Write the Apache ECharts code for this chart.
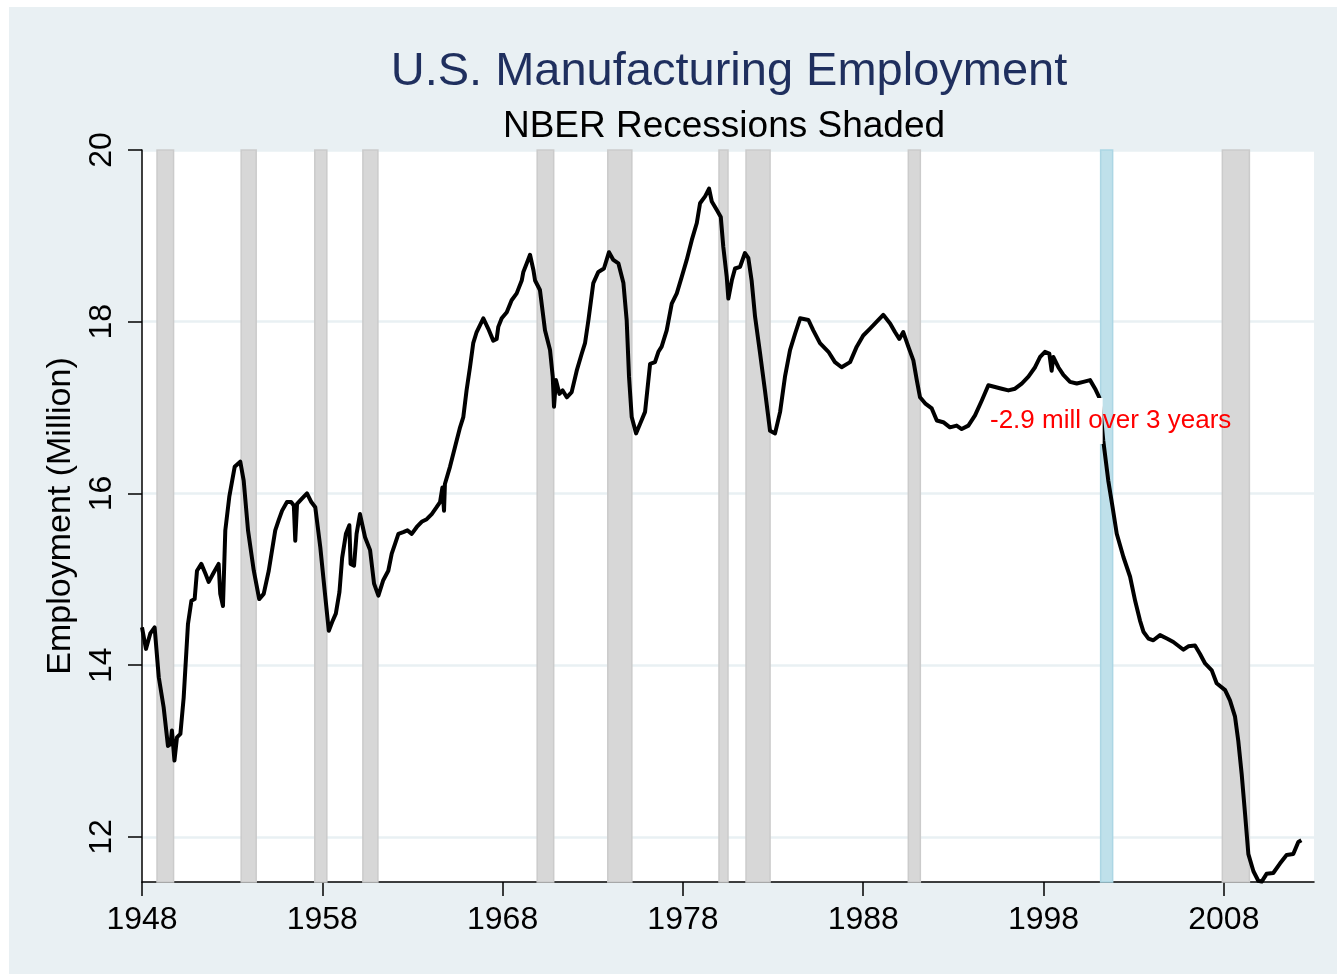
<!DOCTYPE html>
<html>
<head>
<meta charset="utf-8">
<title>U.S. Manufacturing Employment</title>
<script src="https://cdn.jsdelivr.net/npm/echarts@6/dist/echarts.min.js"></script>
<style>
    html, body { margin: 0; padding: 0; background: #fff; }
    #main { position: absolute; left: 9px; top: 7px; width: 1328px; height: 967px; background: #e9f0f3; }
</style>
</head>
<body>
<div id="main"></div>
<script>
// year (decimal) and employment in millions
var years = [
    1948.00, 1948.22, 1948.46, 1948.70, 1948.93, 1949.20, 1949.44, 1949.58, 1949.66, 1949.80,
    1949.94, 1950.13, 1950.31, 1950.55, 1950.74, 1950.92, 1951.05, 1951.29, 1951.51, 1951.70,
    1951.98, 1952.25, 1952.34, 1952.49, 1952.62, 1952.84, 1953.14, 1953.45, 1953.64, 1953.88,
    1954.20, 1954.50, 1954.75, 1955.03, 1955.39, 1955.58, 1955.77, 1956.04, 1956.27, 1956.42,
    1956.50, 1956.60, 1956.87, 1957.15, 1957.39, 1957.61, 1957.89, 1958.13, 1958.36, 1958.54,
    1958.75, 1958.95, 1959.10, 1959.31, 1959.50, 1959.57, 1959.76, 1959.90, 1960.09, 1960.37,
    1960.65, 1960.87, 1961.11, 1961.38, 1961.66, 1961.85, 1962.03, 1962.22, 1962.49, 1962.72,
    1962.96, 1963.24, 1963.51, 1963.79, 1964.07, 1964.34, 1964.53, 1964.66, 1964.75, 1964.80,
    1965.08, 1965.36, 1965.64, 1965.82, 1966.00, 1966.19, 1966.37, 1966.56, 1966.93, 1967.20,
    1967.48, 1967.67, 1967.76, 1967.95, 1968.23, 1968.50, 1968.78, 1969.06, 1969.15, 1969.34,
    1969.52, 1969.71, 1969.80, 1970.07, 1970.35, 1970.63, 1970.78, 1970.85, 1970.96, 1971.15,
    1971.33, 1971.56, 1971.83, 1972.11, 1972.39, 1972.57, 1972.76, 1973.03, 1973.31, 1973.62,
    1973.90, 1974.14, 1974.42, 1974.70, 1974.88, 1975.01, 1975.16, 1975.40, 1975.62, 1975.90,
    1976.18, 1976.45, 1976.64, 1976.82, 1977.10, 1977.38, 1977.66, 1977.93, 1978.21, 1978.49,
    1978.77, 1978.95, 1979.23, 1979.45, 1979.60, 1979.88, 1980.10, 1980.24, 1980.43, 1980.52,
    1980.71, 1980.89, 1981.17, 1981.44, 1981.63, 1981.81, 1982.00, 1982.28, 1982.55, 1982.83,
    1983.11, 1983.39, 1983.66, 1983.94, 1984.22, 1984.50, 1984.96, 1985.23, 1985.60, 1986.07,
    1986.43, 1986.80, 1987.27, 1987.64, 1988.00, 1988.38, 1988.75, 1989.11, 1989.49, 1989.76,
    1990.00, 1990.22, 1990.50, 1990.78, 1990.97, 1991.15, 1991.43, 1991.80, 1992.08, 1992.44,
    1992.81, 1993.18, 1993.46, 1993.83, 1994.20, 1994.57, 1994.94, 1995.31, 1995.68, 1996.05,
    1996.42, 1996.79, 1997.16, 1997.53, 1997.81, 1998.08, 1998.32, 1998.45, 1998.54, 1998.82,
    1999.10, 1999.47, 1999.84, 2000.21, 2000.58, 2000.86, 2001.09, 2001.31, 2001.59, 2001.83,
    2002.06, 2002.43, 2002.80, 2003.08, 2003.35, 2003.54, 2003.82, 2004.09, 2004.46, 2004.84,
    2005.20, 2005.76, 2006.03, 2006.40, 2006.68, 2006.96, 2007.33, 2007.60, 2008.07, 2008.34,
    2008.62, 2008.80, 2008.99, 2009.18, 2009.36, 2009.64, 2009.91, 2010.10, 2010.37, 2010.74,
    2011.11, 2011.48, 2011.85, 2012.13, 2012.30
];
var employment = [
    14.44, 14.19, 14.37, 14.44, 13.86, 13.51, 13.06, 13.08, 13.24, 12.89,
    13.16, 13.20, 13.62, 14.48, 14.75, 14.77, 15.10, 15.18, 15.07, 14.97,
    15.08, 15.18, 14.83, 14.69, 15.57, 15.96, 16.31, 16.37, 16.15, 15.57,
    15.10, 14.77, 14.83, 15.10, 15.57, 15.69, 15.80, 15.90, 15.90, 15.86,
    15.45, 15.88, 15.94, 16.00, 15.90, 15.84, 15.37, 14.87, 14.40, 14.50,
    14.60, 14.85, 15.25, 15.53, 15.63, 15.18, 15.16, 15.53, 15.76, 15.49,
    15.34, 14.95, 14.81, 14.99, 15.10, 15.30, 15.41, 15.53, 15.55, 15.57,
    15.53, 15.61, 15.67, 15.70, 15.76, 15.84, 15.90, 16.07, 15.80, 16.11,
    16.31, 16.54, 16.77, 16.89, 17.20, 17.47, 17.75, 17.88, 18.04, 17.92,
    17.78, 17.80, 17.94, 18.04, 18.11, 18.25, 18.33, 18.48, 18.58, 18.68,
    18.78, 18.60, 18.48, 18.37, 17.90, 17.67, 17.36, 17.01, 17.32, 17.16,
    17.20, 17.12, 17.18, 17.43, 17.63, 17.75, 18.02, 18.45, 18.58, 18.62,
    18.81, 18.72, 18.68, 18.45, 18.02, 17.36, 16.89, 16.70, 16.81, 16.95,
    17.51, 17.53, 17.65, 17.71, 17.90, 18.21, 18.33, 18.52, 18.72, 18.95,
    19.15, 19.38, 19.46, 19.55, 19.40, 19.30, 19.22, 18.87, 18.52, 18.27,
    18.48, 18.62, 18.64, 18.80, 18.74, 18.48, 18.06, 17.63, 17.20, 16.73,
    16.70, 16.95, 17.36, 17.67, 17.86, 18.04, 18.02, 17.90, 17.75, 17.65,
    17.53, 17.47, 17.53, 17.71, 17.84, 17.92, 18.00, 18.08, 17.98, 17.88,
    17.80, 17.88, 17.71, 17.55, 17.32, 17.12, 17.05, 16.99, 16.85, 16.83,
    16.77, 16.79, 16.75, 16.79, 16.91, 17.08, 17.26, 17.24, 17.22, 17.20,
    17.22, 17.28, 17.36, 17.47, 17.59, 17.65, 17.63, 17.43, 17.59, 17.47,
    17.38, 17.30, 17.28, 17.30, 17.32, 17.22, 17.12, 16.62, 16.15, 15.84,
    15.53, 15.26, 15.03, 14.75, 14.52, 14.39, 14.31, 14.29, 14.35, 14.31,
    14.27, 14.18, 14.22, 14.23, 14.13, 14.02, 13.94, 13.79, 13.71, 13.59,
    13.40, 13.12, 12.73, 12.26, 11.80, 11.60, 11.49, 11.48, 11.57, 11.58,
    11.69, 11.79, 11.80, 11.94, 11.96
];

// NBER recessions (peak month -> trough month, as decimal years)
var recessionStart = [1948.833, 1953.500, 1957.583, 1960.250, 1969.917, 1973.833, 1980.000, 1981.500, 1990.500, 2001.167, 2007.917];
var recessionEnd   = [1949.750, 1954.333, 1958.250, 1961.083, 1970.833, 1975.167, 1980.500, 1982.833, 1991.167, 2001.833, 2009.417];
var highlightYear = 2001.167; // the 2001 recession is drawn in blue

var xTicks = [1948, 1958, 1968, 1978, 1988, 1998, 2008];
var yTicks = [12, 14, 16, 18, 20];

var noteText = '-2.9 mill over 3 years';
var notePos = [1995.03, 16.845];

var chart = echarts.init(document.getElementById('main'));

var grayAreas = [];
var blueAreas = [];
recessionStart.forEach(function (s, i) {
    var pair = [{ xAxis: s }, { xAxis: recessionEnd[i] }];
    if (s === highlightYear) {
        blueAreas.push(pair);
    } else {
        grayAreas.push(pair);
    }
});

var lineData = years.map(function (y, i) {
    return [y, employment[i]];
});

var font = 'Liberation Sans, Arial, Helvetica, sans-serif';

var option = {
    animation: false,
    textStyle: { fontFamily: font },
    graphic: [
        {
            type: 'text',
            x: 720,
            y: 65,
            style: {
                text: 'U.S. Manufacturing Employment',
                fill: '#1f2f5e',
                font: '47px ' + font,
                align: 'center',
                verticalAlign: 'middle'
            }
        },
        {
            type: 'text',
            x: 715,
            y: 120,
            style: {
                text: 'NBER Recessions Shaded',
                fill: '#000',
                font: '37px ' + font,
                align: 'center',
                verticalAlign: 'middle'
            }
        }
    ],
    grid: {
        left: 133,
        top: 143,
        width: 1172,
        height: 732,
        show: true,
        backgroundColor: '#fff',
        borderWidth: 0
    },
    xAxis: {
        type: 'value',
        min: 1948,
        max: 2013,
        axisLine: { lineStyle: { color: '#000', width: 1.5 } },
        axisTick: { show: true, length: 14, customValues: xTicks, lineStyle: { color: '#000', width: 1.5 } },
        axisLabel: {
            customValues: xTicks,
            color: '#000',
            fontSize: 32,
            margin: 22,
            formatter: function (v) { return String(v); }
        },
        splitLine: { show: false }
    },
    yAxis: {
        type: 'value',
        min: 11.475,
        max: 20,
        name: 'Employment (Million)',
        nameLocation: 'middle',
        nameRotate: 90,
        nameGap: 52,
        nameTextStyle: { color: '#000', fontSize: 34 },
        axisLine: { show: true, lineStyle: { color: '#000', width: 1.5 } },
        axisTick: { show: true, length: 14, customValues: yTicks, lineStyle: { color: '#000', width: 1.5 } },
        axisLabel: { customValues: yTicks, rotate: 90, color: '#000', fontSize: 32, margin: 24 },
        splitLine: { show: true, lineStyle: { color: '#e9f0f3', width: 2.5 } }
    },
    series: [
        {
            name: 'recessions',
            type: 'line',
            data: [],
            silent: true,
            markArea: {
                silent: true,
                itemStyle: { color: '#d7d7d7', borderColor: '#cbcbcb', borderWidth: 1.5 },
                data: grayAreas
            }
        },
        {
            name: 'recession 2001',
            type: 'line',
            data: [],
            silent: true,
            markArea: {
                silent: true,
                itemStyle: { color: '#bfe0ea', borderColor: '#acd6e4', borderWidth: 1.5 },
                data: blueAreas
            }
        },
        {
            name: 'Manufacturing employment',
            type: 'line',
            data: lineData,
            showSymbol: false,
            smooth: false,
            lineStyle: { color: '#000', width: 4, join: 'round' },
            z: 3,
            markPoint: {
                symbol: 'rect',
                symbolSize: 0,
                data: [{ coord: notePos }],
                label: {
                    show: true,
                    position: 'right',
                    distance: 0,
                    formatter: '{w|' + noteText.slice(0, 11) + '}{n|' + noteText.slice(11) + '}',
                    rich: {
                        w: { color: '#ff0000', fontSize: 26, backgroundColor: '#fff', padding: [10, 0, 10, 0] },
                        n: { color: '#ff0000', fontSize: 26 }
                    }
                }
            }
        }
    ]
};

chart.setOption(option);
window.addEventListener('resize', chart.resize);
</script>
</body>
</html>
